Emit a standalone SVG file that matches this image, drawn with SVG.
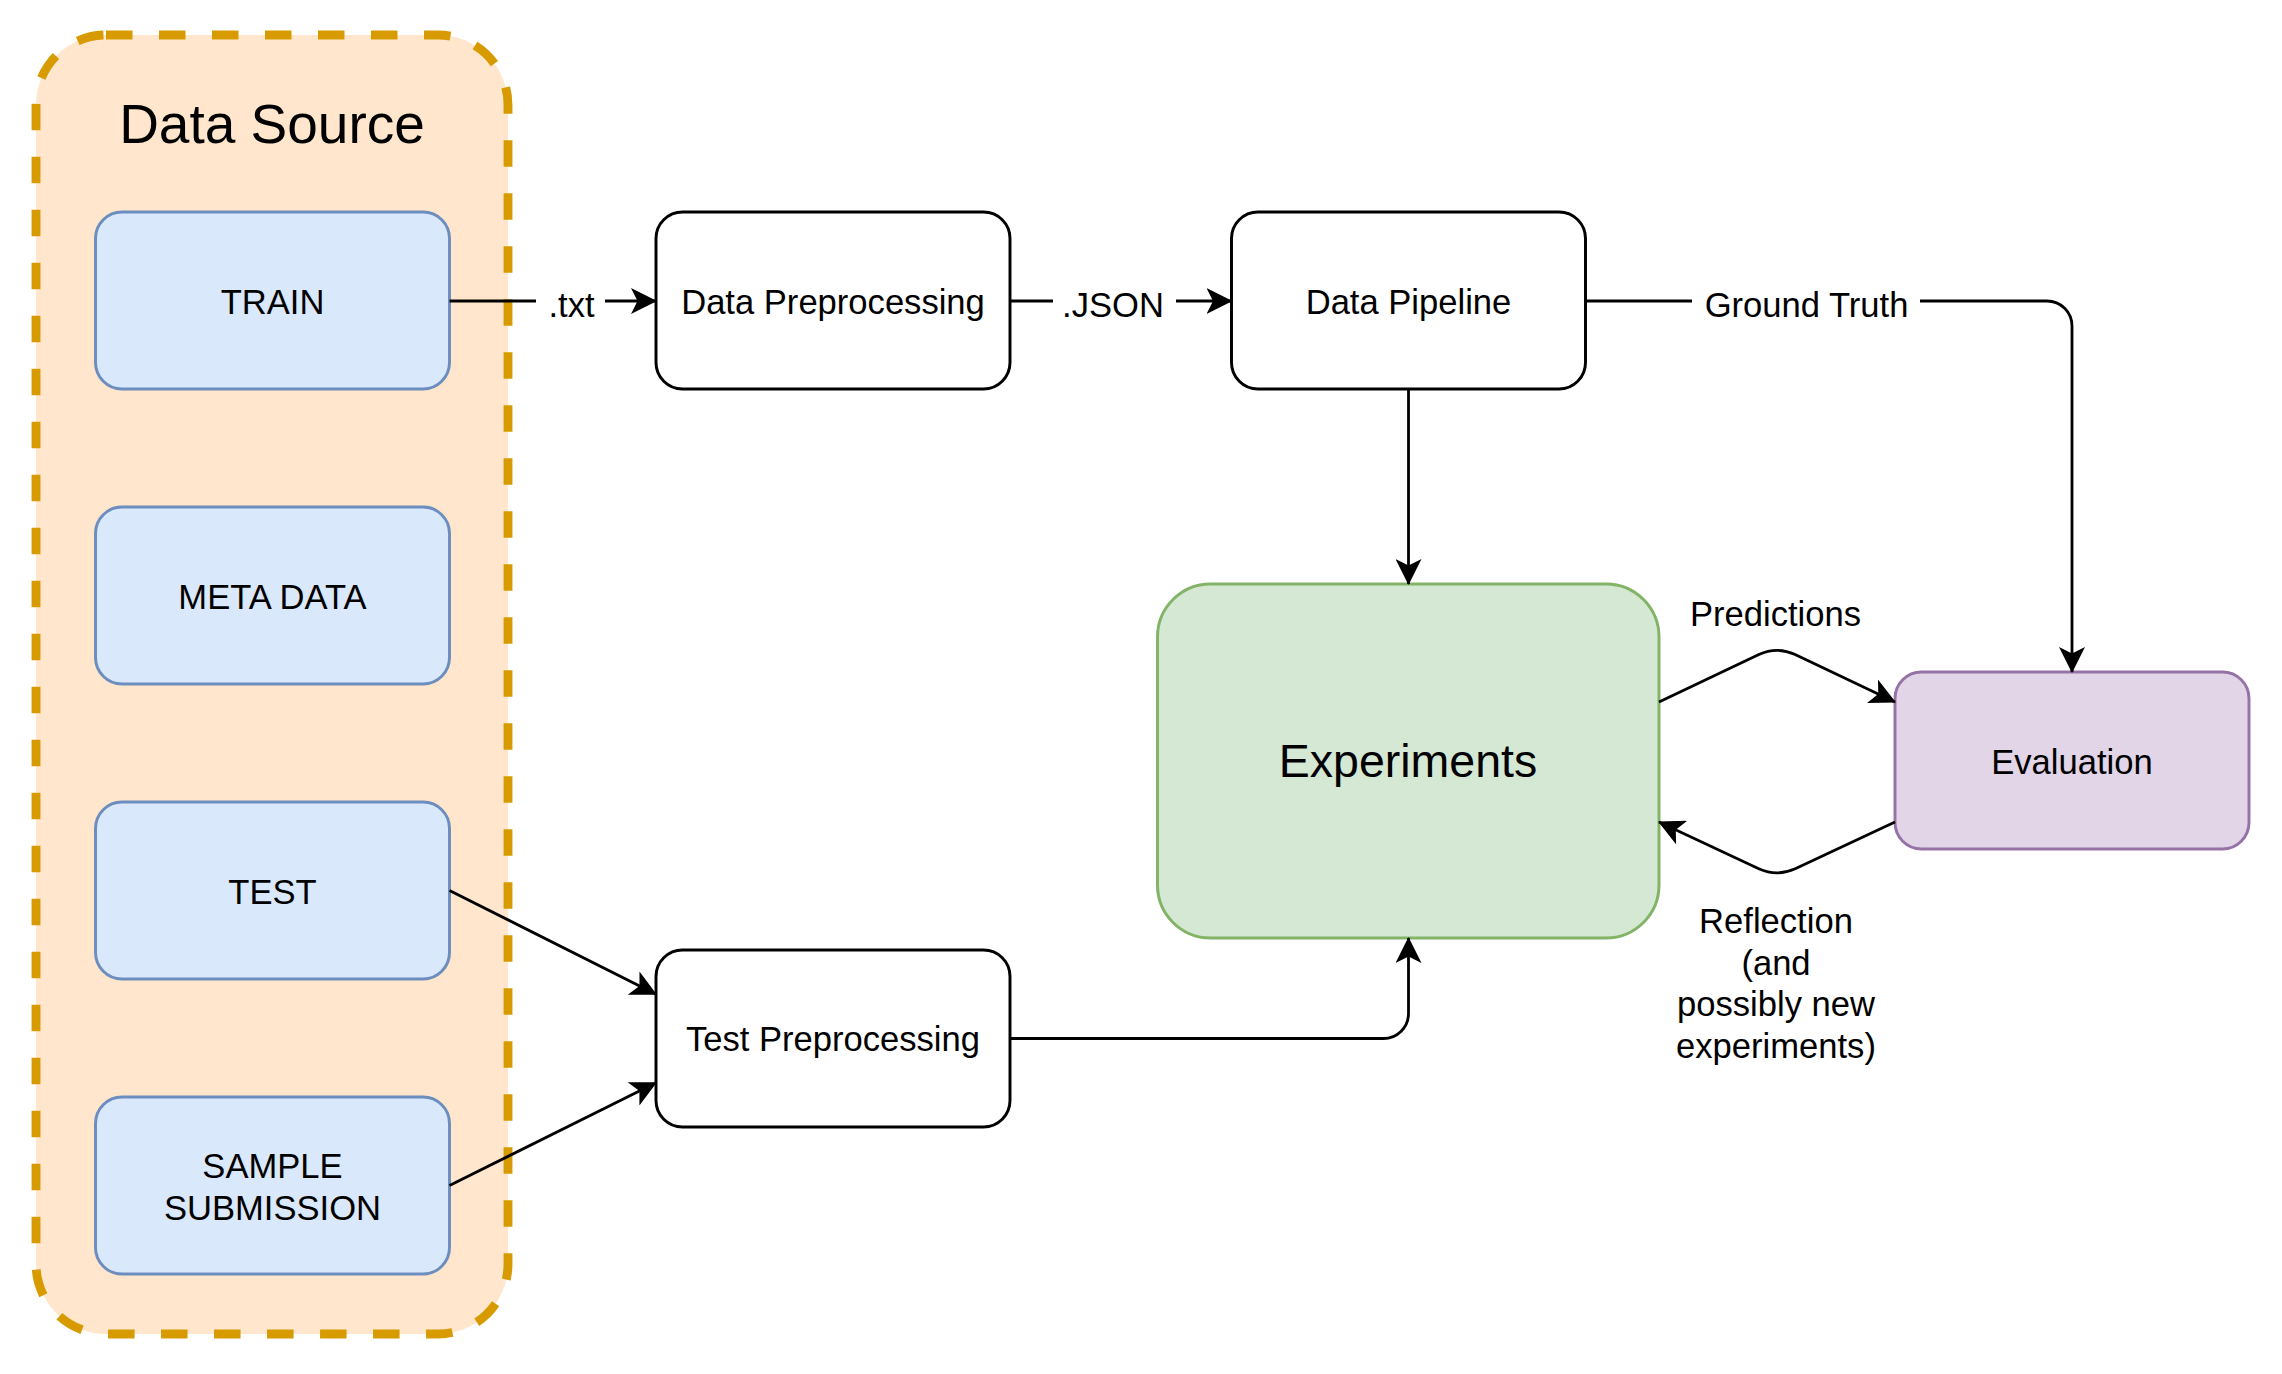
<svg xmlns="http://www.w3.org/2000/svg" width="2282" height="1374" viewBox="0 0 2282 1374">
<style>
text{font-family:"Liberation Sans",Arial,Helvetica,sans-serif;fill:#000;text-anchor:middle}
.t{font-size:34.6px}
.node{stroke-width:2.95}
.blue{fill:#DAE8FC;stroke:#6C8EBF}
.plain{fill:#FFFFFF;stroke:#000000}
.edge{fill:none;stroke:#000;stroke-width:2.8;marker-end:url(#arr)}
.lbg{fill:#FFFFFF;stroke:none}
</style>
<defs>
<marker id="arr" markerUnits="userSpaceOnUse" markerWidth="26" markerHeight="26" viewBox="0 0 26 26" refX="25" refY="13" orient="auto">
<path d="M0,0 L26,13 L0,26 L6.5,13 Z" fill="#000"/>
</marker>
</defs>
<rect width="2282" height="1374" fill="#FFFFFF"/>
<g id="data-source">
<rect x="36" y="35" width="472" height="1299" rx="70" ry="70" fill="#FFE6CC" stroke="#D79B00" stroke-width="8.85" stroke-dasharray="26.5 26.5"/>
<text x="272" y="143" style="font-size:55px">Data Source</text>
</g>
<g id="train">
<rect class="node blue" x="95.5" y="212" width="354" height="177" rx="26.5"/>
<text class="t" x="272.5" y="313.5">TRAIN</text>
</g>
<g id="meta-data">
<rect class="node blue" x="95.5" y="507" width="354" height="177" rx="26.5"/>
<text class="t" x="272.5" y="608.5">META DATA</text>
</g>
<g id="test">
<rect class="node blue" x="95.5" y="802" width="354" height="177" rx="26.5"/>
<text class="t" x="272.5" y="903.5">TEST</text>
</g>
<g id="sample-submission">
<rect class="node blue" x="95.5" y="1097" width="354" height="177" rx="26.5"/>
<text class="t" x="272.5" y="1178">SAMPLE</text>
<text class="t" x="272.5" y="1219.5">SUBMISSION</text>
</g>
<g id="data-preprocessing">
<rect class="node plain" x="656" y="212" width="354" height="177" rx="26.5"/>
<text class="t" x="833" y="313.5">Data Preprocessing</text>
</g>
<g id="data-pipeline">
<rect class="node plain" x="1231.5" y="212" width="354" height="177" rx="26.5"/>
<text class="t" x="1408.5" y="313.5">Data Pipeline</text>
</g>
<g id="test-preprocessing">
<rect class="node plain" x="656" y="950" width="354" height="177" rx="26.5"/>
<text class="t" x="833" y="1051">Test Preprocessing</text>
</g>
<g id="experiments">
<rect class="node" x="1157.5" y="584" width="501.5" height="354" rx="53" fill="#D5E8D4" stroke="#82B366"/>
<text x="1408" y="777" style="font-size:46.5px">Experiments</text>
</g>
<g id="evaluation">
<rect class="node" x="1895" y="672" width="354" height="177" rx="26.5" fill="#E1D5E7" stroke="#9673A6"/>
<text class="t" x="2072" y="773.5">Evaluation</text>
</g>
<g id="connectors">
<path class="edge" d="M449.5,301 H656"/>
<rect class="lbg" x="536" y="286" width="69" height="32"/>
<text class="t" x="571.5" y="316.5">.txt</text>
<path class="edge" d="M1010,301 H1231.5"/>
<rect class="lbg" x="1053" y="286" width="123" height="32"/>
<text class="t" x="1113" y="317">.JSON</text>
<path class="edge" d="M1585.5,301 H2047 A25,25 0 0 1 2072,326 V672"/>
<rect class="lbg" x="1692" y="286" width="228" height="32"/>
<text class="t" x="1806.5" y="317">Ground Truth</text>
<path class="edge" d="M1408.5,389 V584"/>
<path class="edge" d="M449.5,890.5 L656,994.25"/>
<path class="edge" d="M449.5,1185.5 L656,1082.75"/>
<path class="edge" d="M1010,1038.5 H1383.5 A25,25 0 0 0 1408.5,1013.5 V938"/>
<path class="edge" d="M1659,702 L1758.9,654.6 Q1777,646 1795.1,654.6 L1895,702"/>
<text class="t" x="1775.5" y="626">Predictions</text>
<path class="edge" d="M1895,822 L1795.2,868.8 Q1777,877 1758.8,868.8 L1659,822"/>
<text class="t" x="1776" y="933">Reflection</text>
<text class="t" x="1776" y="974.5">(and</text>
<text class="t" x="1776" y="1016">possibly new</text>
<text class="t" x="1776" y="1057.5">experiments)</text>
</g>
</svg>
